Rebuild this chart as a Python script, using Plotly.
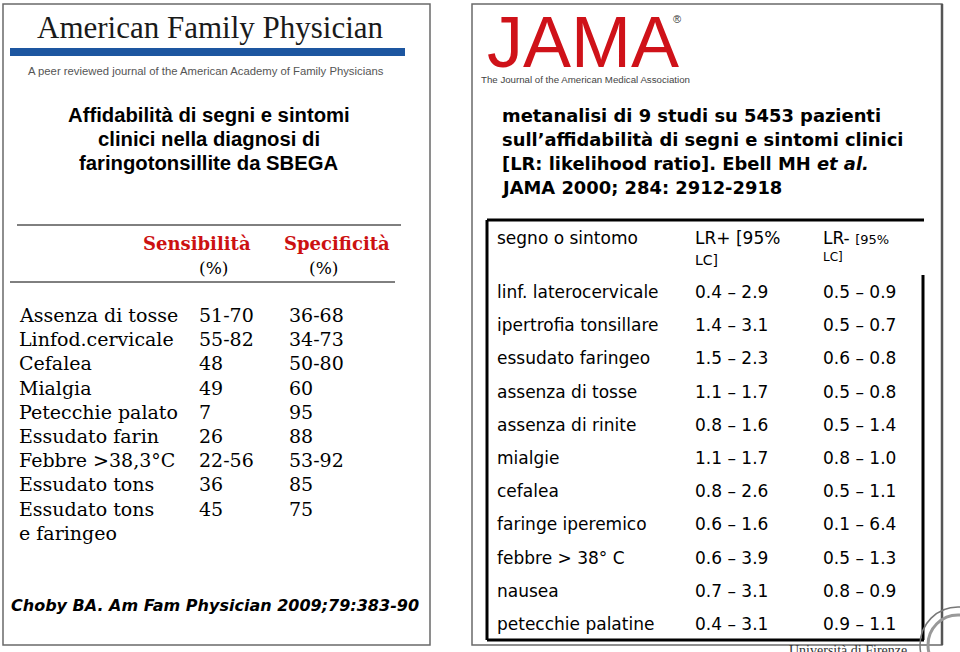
import plotly.graph_objects as go

# ---------------- data ----------------
afp_title = ["Affidabilità di segni e sintomi", "clinici nella diagnosi di", "faringotonsillite da SBEGA"]
left_headers = ["Sensibilità", "Specificità"]
left_signs = ["Assenza di tosse", "Linfod.cervicale", "Cefalea", "Mialgia", "Petecchie palato",
              "Essudato farin", "Febbre >38,3°C", "Essudato tons", "Essudato tons", "e faringeo"]
left_sens = ["51-70", "55-82", "48", "49", "7", "26", "22-56", "36", "45", ""]
left_spec = ["36-68", "34-73", "50-80", "60", "95", "88", "53-92", "85", "75", ""]
left_citation = "Choby BA. Am Fam Physician 2009;79:383-90"

jama_text = ["metanalisi di 9 studi su 5453 pazienti",
             "sull’affidabilità di segni e sintomi clinici",
             "[LR: likelihood ratio]. Ebell MH <i>et al.</i>",
             "JAMA 2000; 284: 2912-2918"]
right_signs = ["linf. laterocervicale", "ipertrofia tonsillare", "essudato faringeo", "assenza di tosse",
               "assenza di rinite", "mialgie", "cefalea", "faringe iperemico", "febbre > 38° C",
               "nausea", "petecchie palatine"]
lr_pos_low = ["0.4", "1.4", "1.5", "1.1", "0.8", "1.1", "0.8", "0.6", "0.6", "0.7", "0.4"]
lr_pos_high = ["2.9", "3.1", "2.3", "1.7", "1.6", "1.7", "2.6", "1.6", "3.9", "3.1", "3.1"]
lr_neg_low = ["0.5", "0.5", "0.6", "0.5", "0.5", "0.8", "0.5", "0.1", "0.5", "0.8", "0.9"]
lr_neg_high = ["0.9", "0.7", "0.8", "0.8", "1.4", "1.0", "1.1", "6.4", "1.3", "0.9", "1.1"]

# ---------------- figure ----------------
W, H = 960, 652
fig = go.Figure()
fig.update_layout(
    width=W, height=H, margin=dict(l=0, r=0, t=0, b=0),
    paper_bgcolor="white", plot_bgcolor="white", showlegend=False,
    xaxis=dict(range=[0, W], visible=False, fixedrange=True),
    yaxis=dict(range=[H, 0], visible=False, fixedrange=True),
)

ann = []
shapes = []

def txt(x, y, s, size, family="DejaVu Sans", color="black", anchor="left", bold=False, italic=False):
    if bold:
        s = "<b>" + s + "</b>"
    if italic:
        s = "<i>" + s + "</i>"
    if anchor == "left":
        x -= 2.5
    elif anchor == "right":
        x += 2.5
    ann.append(dict(x=x, y=y, xref="x", yref="y", text=s, showarrow=False,
                    xanchor=anchor, yanchor="middle",
                    font=dict(size=size, family=family, color=color)))

def line(x0, y0, x1, y1, color="black", width=1):
    shapes.append(dict(type="line", xref="x", yref="y", x0=x0, y0=y0, x1=x1, y1=y1,
                       line=dict(color=color, width=width)))

# panel borders
shapes.append(dict(type="rect", xref="x", yref="y", x0=3, y0=4, x1=430, y1=645,
                   line=dict(color="#6a6a6a", width=1.5)))
shapes.append(dict(type="rect", xref="x", yref="y", x0=472, y0=4, x1=942, y1=645,
                   line=dict(color="#6a6a6a", width=1.5)))
line(942, 4, 942, 645, "#555555", 2.5)

# ---- left panel: AFP logo ----
txt(210, 27, "American Family Physician", 31, "Liberation Serif", "#1a1a1a", "center")
shapes.append(dict(type="rect", xref="x", yref="y", x0=10, y0=48, x1=405, y1=56,
                   fillcolor="#1d56a0", line=dict(width=0)))
txt(206, 71, "A peer reviewed journal of the American Academy of Family Physicians", 11.3,
    "Liberation Sans", "#555555", "center")

for i, s in enumerate(afp_title):
    txt(209, 115 + i * 24, s, 20.3, "Liberation Sans", "black", "center", bold=True)

line(17, 225, 401, 225)
line(10, 282, 395, 282)
txt(250, 243, left_headers[0], 18, "DejaVu Serif", "#cc1111", "right", bold=True)
txt(389, 243, left_headers[1], 18, "DejaVu Serif", "#cc1111", "right", bold=True)
txt(213, 268, "(%)", 17, "DejaVu Serif", "black", "center")
txt(323, 268, "(%)", 17, "DejaVu Serif", "black", "center")

for i in range(len(left_signs)):
    y = 315 + i * 24.2
    txt(19, y, left_signs[i], 19, "DejaVu Serif")
    if left_sens[i]:
        txt(199, y, left_sens[i], 19, "DejaVu Serif")
    if left_spec[i]:
        txt(289, y, left_spec[i], 19, "DejaVu Serif")

txt(215, 605, left_citation, 16, "DejaVu Sans", "black", "center", bold=True, italic=True)

# ---- right panel: JAMA logo ----
txt(487, 42, "JAMA", 72, "Liberation Sans", "#cf1219", "left")
txt(677, 19, "®", 11, "Liberation Sans", "#333333", "center")
txt(481, 79, "The Journal of the American Medical Association", 9.7, "Liberation Sans", "#444444", "left")

for i, s in enumerate(jama_text):
    txt(502, 115 + i * 24, s, 17.9, "DejaVu Sans", "black", "left", bold=True)

# table frame
line(487, 220, 924, 220, "black", 3)
line(487, 220, 487, 640, "black", 3)
line(487, 640, 924, 640, "black", 3)
line(923, 275, 923, 640, "black", 3)

txt(497, 238, "segno o sintomo", 17)
txt(695, 238, "LR+ [95%", 17)
txt(695, 260, "LC]", 14)
txt(823, 238, "LR- <span style='font-size:13px'>[95%</span>", 17)
txt(823, 257, "LC]", 12)

for i in range(len(right_signs)):
    y = 292 + i * 33.2
    txt(497, y, right_signs[i], 17)
    txt(695, y, lr_pos_low[i] + " – " + lr_pos_high[i], 17)
    txt(823, y, lr_neg_low[i] + " – " + lr_neg_high[i], 17)

# university seal (partially visible)
shapes.append(dict(type="circle", xref="x", yref="y", x0=920, y0=607, x1=996, y1=683,
                   line=dict(color="#777777", width=1.5)))
shapes.append(dict(type="circle", xref="x", yref="y", x0=928, y0=615, x1=988, y1=675,
                   line=dict(color="#999999", width=3)))
txt(848, 650, "Università di Firenze", 14, "Liberation Serif", "#333333", "center")

fig.update_layout(annotations=ann, shapes=shapes)
fig.write_html("out.html", config={"displayModeBar": False},
               post_script="document.body.style.margin='0';")
